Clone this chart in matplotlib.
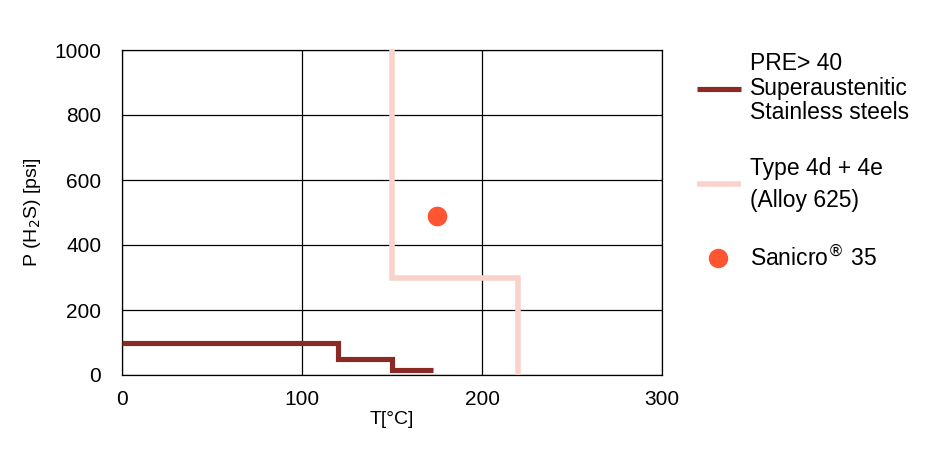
import matplotlib
matplotlib.use("Agg")
import matplotlib.pyplot as plt
from matplotlib.lines import Line2D

plt.rcParams['font.family'] = ['Liberation Sans', 'DejaVu Sans']

# Data
pre40_T = [0, 120, 120, 150, 150, 173]
pre40_P = [100, 100, 50, 50, 15, 15]
alloy625_T = [150, 150, 220, 220]
alloy625_P = [1000, 300, 300, 0]
sanicro_T = [175]
sanicro_P = [490]

x_ticks = [0, 100, 200, 300]
y_ticks = [0, 200, 400, 600, 800, 1000]

dark = '#8B2A24'
pink = '#F9D2CA'
orange = '#FF5533'

fig = plt.figure(figsize=(9.42, 4.53), dpi=100)
W, H = 942, 453
ax = fig.add_axes([122 / W, 1 - 375 / H, (662 - 122) / W, (375 - 50) / H])

ax.plot(pre40_T, pre40_P, color=dark, lw=3.7, solid_joinstyle='miter',
        solid_capstyle='butt', zorder=3)
ax.plot(alloy625_T, alloy625_P, color=pink, lw=4.0, solid_joinstyle='miter',
        solid_capstyle='butt', zorder=3)
ax.scatter(sanicro_T, sanicro_P, s=200, color=orange, zorder=4, linewidths=0)

ax.set_xlim(0, 300)
ax.set_ylim(0, 1000)
ax.set_xticks(x_ticks)
ax.set_yticks(y_ticks)
ax.set_xticklabels([str(v) for v in x_ticks], fontsize=15)
ax.set_yticklabels([str(v) for v in y_ticks], fontsize=15)
ax.tick_params(axis='x', length=0, pad=11)
ax.tick_params(axis='y', length=0, pad=15)
ax.grid(True, color='black', lw=0.9)
for s in ax.spines.values():
    s.set_color('black')
    s.set_linewidth(0.9)
ax.set_axisbelow(True)

ax.set_xlabel('T[°C]', fontsize=14, labelpad=1)
ax.set_ylabel('P (H$_2$S) [psi]', fontsize=14, labelpad=8)

# Legend (manual layout)
def fx(px):
    return px / W

def fy(py):
    return 1 - py / H

fs = 16.5
fig.add_artist(Line2D([fx(697), fx(741)], [fy(89), fy(89)], color=dark, lw=3.7,
                      solid_capstyle='butt'))
fig.text(fx(750), fy(88), 'PRE> 40\nSuperaustenitic\nStainless steels', fontsize=fs,
         va='center', ha='left', linespacing=1.06)
fig.add_artist(Line2D([fx(697), fx(741)], [fy(184), fy(184)], color=pink, lw=4.0,
                      solid_capstyle='butt'))
fig.text(fx(750), fy(185), 'Type 4d + 4e\n(Alloy 625)', fontsize=fs,
         va='center', ha='left', linespacing=1.5)
fig.add_artist(Line2D([fx(718)], [fy(258)], marker='o', markersize=14,
                      color=orange, markeredgewidth=0, lw=0))
fig.text(fx(750), fy(258), 'Sanicro$^{®}$ 35', fontsize=fs, va='center', ha='left')

fig.savefig('out.png', dpi=100)
